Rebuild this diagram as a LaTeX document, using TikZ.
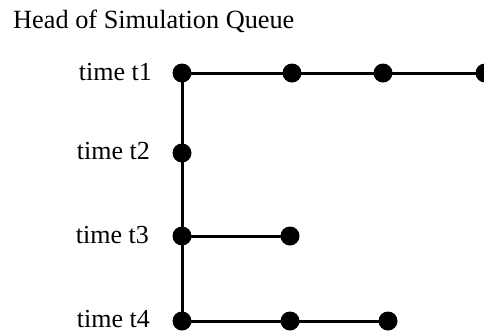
\documentclass[tikz,border=0pt]{standalone}
\usepackage{fontspec}
\setmainfont{Liberation Serif}
\begin{document}
\begin{tikzpicture}[x=1pt,y=-1pt,
  dot/.style={circle,fill=black,inner sep=0pt,minimum size=19pt},
  lbl/.style={anchor=base east,inner sep=0pt,font=\fontsize{26}{31}\selectfont},
  link/.style={line width=3pt}]
\useasboundingbox (0,0) rectangle (484,333);
\node[anchor=base west,inner sep=0pt,font=\fontsize{26.3}{31}\selectfont] (title) at (13,28) {Head of Simulation Queue};
\node[lbl] (l1) at (152,80) {time t1};
\node[lbl] (l2) at (150,159) {time t2};
\node[lbl] (l3) at (149,243) {time t3};
\node[lbl] (l4) at (150,327.5) {time t4};
\node[dot] (a1) at (182,73) {};
\node[dot] (a2) at (292,73) {};
\node[dot] (a3) at (383,73) {};
\node[dot] (a4) at (485,73) {};
\node[dot] (b1) at (182,153) {};
\node[dot] (c1) at (182,236) {};
\node[dot] (c2) at (290,236) {};
\node[dot] (d1) at (182,321) {};
\node[dot] (d2) at (290,321) {};
\node[dot] (d3) at (388,321) {};
\draw[link] (a1.center) -- (b1.center) -- (c1.center) -- (d1.center);
\draw[link] (a1.center) -- (a2.center) -- (a3.center) -- (a4.center);
\draw[link] (c1.center) -- (c2.center);
\draw[link] (d1.center) -- (d2.center) -- (d3.center);
\end{tikzpicture}
\end{document}
